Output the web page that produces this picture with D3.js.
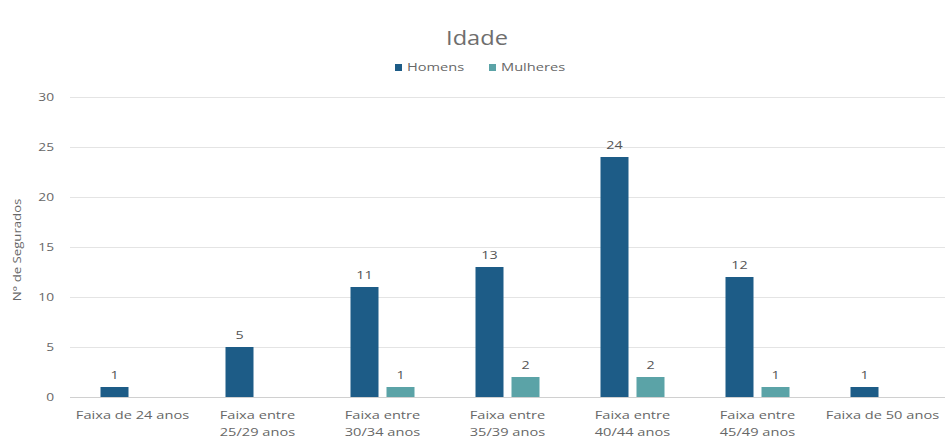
<!DOCTYPE html>
<html><head><meta charset="utf-8">
<script src="https://cdn.jsdelivr.net/npm/d3@7"></script>
<style>body{margin:0;background:#fff;} svg{display:block;font-family:"Open Sans",sans-serif;}</style>
</head><body><svg id="c" width="949" height="440"></svg>
<script>
const categories = [["Faixa de 24 anos"],["Faixa entre","25/29 anos"],["Faixa entre","30/34 anos"],["Faixa entre","35/39 anos"],["Faixa entre","40/44 anos"],["Faixa entre","45/49 anos"],["Faixa de 50 anos"]];
const homens = [1,5,11,13,24,12,1];
const mulheres = [0,0,1,2,2,1,0];
const seriesNames = ["Homens","Mulheres"];
const yTicks = [0,5,10,15,20,25,30];
const colors = ["#1d5c87","#5ba3a7"];

const svg = d3.select("#c");
const W=949,H=440;
const m={l:70,r:4,t:97,b:43};
const x = d3.scaleBand().domain(d3.range(categories.length)).range([m.l,W-m.r]).padding(0);
const y = d3.scaleLinear().domain([0,30]).range([H-m.b,m.t]);
const textCol="#676767";
const SX=1.33;

function txt(g,xp,yp,s,anchor,size,sx,fill,rot){
  return g.append("text")
   .attr("transform",`translate(${xp},${yp})${rot?` rotate(${rot})`:""} scale(${sx},1)`)
   .attr("text-anchor",anchor).attr("font-size",size).attr("fill",fill||textCol).text(s);
}

// gridlines
svg.append("g").selectAll("line").data(yTicks).join("line")
 .attr("x1",m.l).attr("x2",W-m.r).attr("y1",d=>y(d)+0.5).attr("y2",d=>y(d)+0.5)
 .attr("stroke",d=>d===0?"#d0d0d0":"#e4e4e4").attr("stroke-width",1);

// y labels
const yl=svg.append("g");
yTicks.forEach(d=>txt(yl,54,y(d)+4,d,"end",11,1.25));

txt(svg,21,250,"N° de Segurados","middle",11,1.2,textCol,-90);

const bw = x.bandwidth()*0.224, gap=8;
const data=[homens,mulheres];
data.forEach((arr,si)=>{
  const g=svg.append("g");
  const xs = i => x(i)+x.bandwidth()/2 + (si===0 ? -gap/2-bw : gap/2);
  const pts = arr.map((v,i)=>({v,i})).filter(d=>d.v>0);
  g.selectAll("rect").data(pts).join("rect")
   .attr("x",d=>xs(d.i)).attr("width",bw).attr("y",d=>y(d.v)).attr("height",d=>y(0)-y(d.v))
   .attr("fill",colors[si]);
  pts.forEach(d=>txt(g,xs(d.i)+bw/2,y(d.v)-8,d.v,"middle",11,1.3,"#555555"));
});

// x labels
const xl=svg.append("g");
categories.forEach((lines,i)=>{
  lines.forEach((l,j)=>txt(xl,x(i)+x.bandwidth()/2,419+j*17,l,"middle",11,SX));
});

// title
txt(svg,477,45,"Idade","middle",20,1.18,"#6e6e6e");

// legend
const lg=svg.append("g");
const lx=[395,489];
seriesNames.forEach((n,i)=>{
  lg.append("rect").attr("x",lx[i]).attr("y",64).attr("width",7).attr("height",7).attr("fill",colors[i]);
  txt(lg,lx[i]+12,71,n,"start",11,SX);
});
</script></body></html>
